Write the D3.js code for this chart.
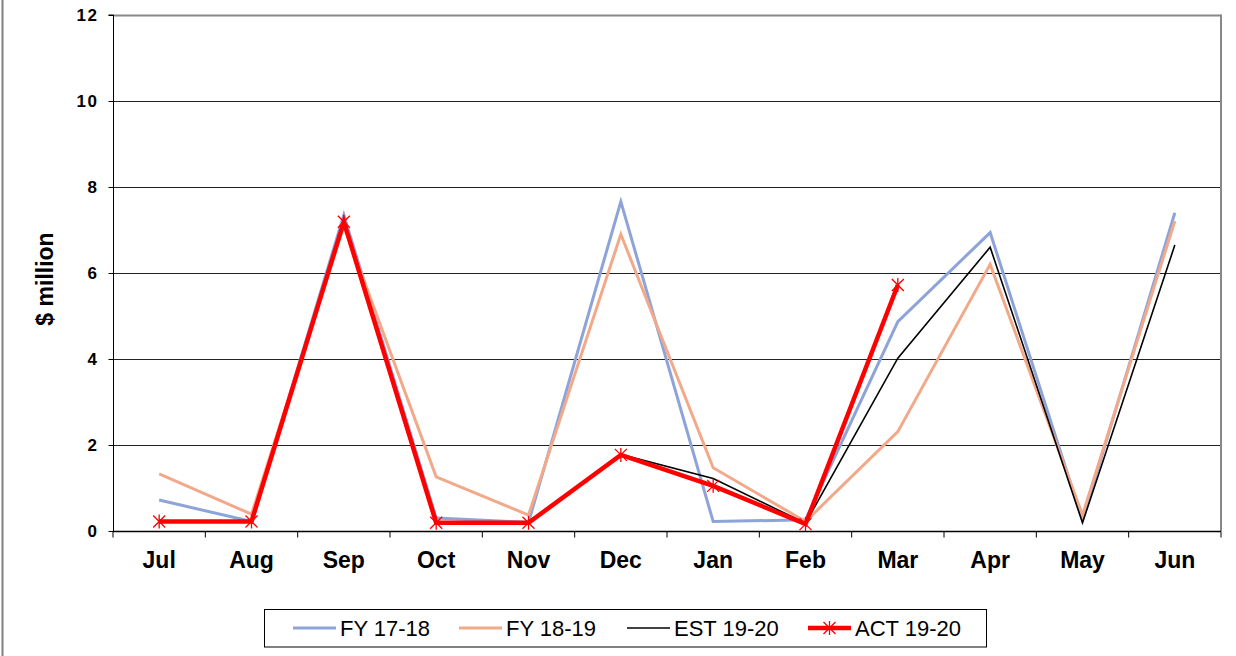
<!DOCTYPE html>
<html>
<head>
<meta charset="utf-8">
<script src="https://cdn.jsdelivr.net/npm/d3@7"></script>
<style>
  html, body { margin: 0; padding: 0; background: #fff; }
  svg { display: block; font-family: "Liberation Sans", Arial, sans-serif; }
</style>
</head>
<body>
<svg id="chart" width="1236" height="656"></svg>
<script>
const months = ["Jul","Aug","Sep","Oct","Nov","Dec","Jan","Feb","Mar","Apr","May","Jun"];
const fy1718 = [0.72, 0.22, 7.35, 0.30, 0.20, 7.66, 0.22, 0.26, 4.87, 6.94, 0.25, 7.40];
const fy1819 = [1.33, 0.39, 7.10, 1.26, 0.37, 6.90, 1.47, 0.22, 2.31, 6.20, 0.37, 7.21];
const est1920 = [0.22, 0.22, 7.15, 0.19, 0.19, 1.78, 1.22, 0.18, 4.02, 6.60, 0.19, 6.65];
const act1920 = [0.22, 0.22, 7.19, 0.19, 0.19, 1.77, 1.05, 0.16, 5.72];
const yTicks = [0, 2, 4, 6, 8, 10, 12];
const seriesNames = ["FY 17-18", "FY 18-19", "EST 19-20", "ACT 19-20"];

(function () {
const series = [
  { name: seriesNames[0], values: fy1718, color: "#8EA3D8", width: 3, marker: false },
  { name: seriesNames[1], values: fy1819, color: "#F2A98A", width: 3, marker: false },
  { name: seriesNames[2], values: est1920, color: "#000000", width: 1.6, marker: false },
  { name: seriesNames[3], values: act1920, color: "#FF0000", width: 4.5, marker: true }
];

const svg = d3.select("#chart");
const pl = 113, pr = 1221, pt = 15, pb = 531;

// outer border (left edge visible)
svg.append("line").attr("x1", 2.5).attr("x2", 2.5).attr("y1", 0).attr("y2", 656)
  .attr("stroke", "#808080").attr("stroke-width", 2);

const x = d3.scaleBand().domain(months).range([pl, pr]).padding(0);
const y = d3.scaleLinear().domain([0, 12]).range([pb, pt]);

// gridlines
svg.append("g").selectAll("line").data(yTicks.filter(d => d > 0)).join("line")
  .attr("x1", pl).attr("x2", pr)
  .attr("y1", d => Math.round(y(d)) + 0.5).attr("y2", d => Math.round(y(d)) + 0.5)
  .attr("stroke", d => d === 12 ? "#888" : "#222")
  .attr("stroke-width", d => d === 12 ? 2 : 1);

// right plot border
svg.append("line").attr("x1", pr).attr("x2", pr).attr("y1", pt - 0.5).attr("y2", pb)
  .attr("stroke", "#888").attr("stroke-width", 2);

// y axis
const yAxis = d3.axisLeft(y).tickValues(yTicks).tickSize(5).tickPadding(10);
const gy = svg.append("g").attr("transform", `translate(${pl + 0.5},0)`).call(yAxis);
gy.select(".domain").attr("stroke", "#000").attr("d", `M-5,${pt}H0V${pb}`);
gy.selectAll(".tick line").attr("stroke", "#000");
gy.selectAll(".tick text").attr("font-size", 17).attr("font-weight", "bold")
  .attr("letter-spacing", 1.5)
  .attr("font-family", "'Liberation Sans', Arial, sans-serif").attr("fill", "#000");

// x axis (ticks at band boundaries)
const gx = svg.append("g").attr("transform", `translate(0,${pb + 0.5})`);
gx.append("line").attr("x1", pl).attr("x2", pr).attr("stroke", "#000").attr("stroke-width", 1.5);
const bounds = months.map(m => x(m)).concat([x(months[months.length - 1]) + x.bandwidth()]);
gx.selectAll("line.tk").data(bounds).join("line").attr("class", "tk")
  .attr("x1", d => d).attr("x2", d => d).attr("y1", 0).attr("y2", 6)
  .attr("stroke", "#000");
gx.selectAll("text").data(months).join("text")
  .attr("x", d => x(d) + x.bandwidth() / 2).attr("y", 36.5)
  .attr("text-anchor", "middle").attr("font-size", 23).attr("font-weight", "bold")
  .text(d => d);

// y title
svg.append("text").attr("transform", "translate(53,279) rotate(-90)")
  .attr("text-anchor", "middle").attr("font-size", 23).attr("font-weight", "bold")
  .text("$ million");

// lines
const line = d3.line().x((d, i) => x(months[i]) + x.bandwidth() / 2).y(d => y(d));
series.forEach(s => {
  svg.append("path").datum(s.values).attr("d", line)
    .attr("fill", "none").attr("stroke", s.color).attr("stroke-width", s.width)
    .attr("stroke-linejoin", "miter");
});

function asterisk(g, cx, cy, r, color) {
  const p = `M${cx - r},${cy - r}L${cx + r},${cy + r}M${cx - r},${cy + r}L${cx + r},${cy - r}M${cx},${cy - r - 1}L${cx},${cy + r + 1}`;
  g.append("path").attr("d", p).attr("stroke", color).attr("stroke-width", 1.3).attr("fill", "none");
}
const act = series[3];
const mg = svg.append("g");
act.values.forEach((v, i) => asterisk(mg, x(months[i]) + x.bandwidth() / 2, y(v), 6, act.color));

// legend
const lg = svg.append("g");
lg.append("rect").attr("x", 264.5).attr("y", 609.5).attr("width", 722).attr("height", 37.5)
  .attr("fill", "#fff").attr("stroke", "#000").attr("stroke-width", 1);
const legX = [293, 459, 627, 808];
series.forEach((s, i) => {
  const lx = legX[i];
  lg.append("line").attr("x1", lx).attr("x2", lx + 43).attr("y1", 628).attr("y2", 628)
    .attr("stroke", s.color).attr("stroke-width", s.width);
  if (s.marker) asterisk(lg, lx + 21.5, 628, 6, s.color);
  lg.append("text").attr("x", lx + 47).attr("y", 636).attr("font-size", 22)
    .attr("fill", "#000").text(s.name);
});
})();
</script>
</body>
</html>
